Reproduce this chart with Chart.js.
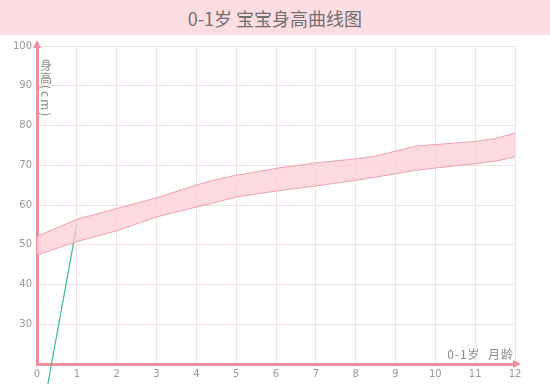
<!DOCTYPE html>
<html>
<head>
<meta charset="utf-8">
<script src="https://cdn.jsdelivr.net/npm/chart.js@4.4.0/dist/chart.umd.min.js"></script>
<style>
body{margin:0;background:#fff;}
#wrap{width:550px;height:384px;position:relative;overflow:hidden;}
#title{height:35px;line-height:36px;background:#fddde2;text-align:center;font-family:"Noto Sans CJK SC",sans-serif;font-size:18px;color:#707070;}
#box{width:550px;height:349px;position:relative;}
</style>
</head>
<body>
<div id="wrap">
  <div id="title">0-1岁 宝宝身高曲线图</div>
  <div id="box"><canvas id="myChart"></canvas></div>
</div>
<script>
// 月龄 (band vertices) and reference range
var months = [0, 1, 2, 3, 4.25, 5, 6, 7, 8, 8.5, 9.5, 10, 11, 11.5, 12];
var upper = [52.1, 56.4, 59.1, 61.8, 65.8, 67.5, 69.2, 70.6, 71.6, 72.3, 74.8, 75.2, 76.0, 76.7, 78.1];
var lower = [47.4, 50.8, 53.5, 57.0, 60.1, 62.0, 63.5, 64.8, 66.2, 67.0, 68.7, 69.3, 70.4, 71.0, 72.1];
// baby's own records
var babyMonths = [0, 1];
var babyHeight = [0, 55];

function pts(xs, ys) {
  return xs.map(function (x, i) { return { x: x, y: ys[i] }; });
}

var decor = {
  id: "decor",
  afterDraw: function (chart) {
    var ctx = chart.ctx, a = chart.chartArea;
    ctx.save();
    ctx.fillStyle = "#ee8fa0";
    ctx.beginPath();
    ctx.moveTo(a.left, a.top - 6);
    ctx.lineTo(a.left - 4, a.top + 2);
    ctx.lineTo(a.left + 4, a.top + 2);
    ctx.closePath();
    ctx.fill();
    ctx.beginPath();
    ctx.moveTo(a.right + 6, a.bottom);
    ctx.lineTo(a.right - 2, a.bottom - 4);
    ctx.lineTo(a.right - 2, a.bottom + 4);
    ctx.closePath();
    ctx.fill();

    ctx.fillStyle = "#8c8c8c";
    ctx.font = '12px "Noto Sans CJK SC"';
    ctx.textAlign = "center";
    ctx.textBaseline = "middle";
    var cx = a.left + 9;
    ctx.fillText("身", cx, a.top + 19);
    ctx.fillText("高", cx, a.top + 32);
    ctx.translate(cx, a.top + 39);
    ctx.rotate(Math.PI / 2);
    ctx.textAlign = "left";
    ctx.letterSpacing = "2px";
    ctx.fillText("(cm)", 0, 0);
    ctx.restore();

    ctx.save();
    ctx.fillStyle = "#8c8c8c";
    ctx.font = '12px "Noto Sans CJK SC"';
    ctx.textAlign = "right";
    ctx.textBaseline = "middle";
    ctx.letterSpacing = "1px";
    ctx.fillText("0-1岁  月龄", a.right - 1, a.bottom - 10);
    ctx.restore();
  }
};

var ctx = document.getElementById("myChart");
var myChart = new Chart(ctx, {
  type: "line",
  data: {
    datasets: [
      {
        label: "lower",
        data: pts(months, lower),
        borderColor: "#e9a0ae",
        borderWidth: 1,
        pointRadius: 0,
        fill: false,
      },
      {
        label: "upper",
        data: pts(months, upper),
        borderColor: "#e9a0ae",
        backgroundColor: "rgba(252,205,213,0.75)",
        borderWidth: 1,
        pointRadius: 0,
        fill: "-1",
      },
      {
        label: "baby",
        data: pts(babyMonths, babyHeight),
        borderColor: "#3dbd8c",
        borderWidth: 1.2,
        pointRadius: 0,
        fill: false,
        clip: false,
      },
    ],
  },
  options: {
    responsive: true,
    maintainAspectRatio: false,
    animation: false,
    layout: { padding: { top: 9, right: 35 } },
    plugins: {
      legend: { display: false },
      tooltip: { enabled: false },
    },
    scales: {
      x: {
        type: "linear",
        min: 0,
        max: 12,
        ticks: { stepSize: 1, color: "#999", font: { size: 10, family: "DejaVu Sans" }, padding: 4 },
        grid: { color: "#f1e1e4", drawTicks: false },
        border: { color: "#ee8fa0", width: 3 },
        afterFit: function (s) { s.height = 20; },
      },
      y: {
        min: 20,
        max: 100,
        ticks: {
          stepSize: 10,
          color: "#999",
          font: { size: 10, family: "DejaVu Sans" },
          padding: 5,
          callback: function (v) { return v === 20 ? "" : v; },
        },
        grid: { color: "#f1e1e4", drawTicks: false },
        border: { color: "#ee8fa0", width: 3 },
        afterFit: function (s) { s.width = 37; },
      },
    },
  },
  plugins: [decor],
});
</script>
</body>
</html>
